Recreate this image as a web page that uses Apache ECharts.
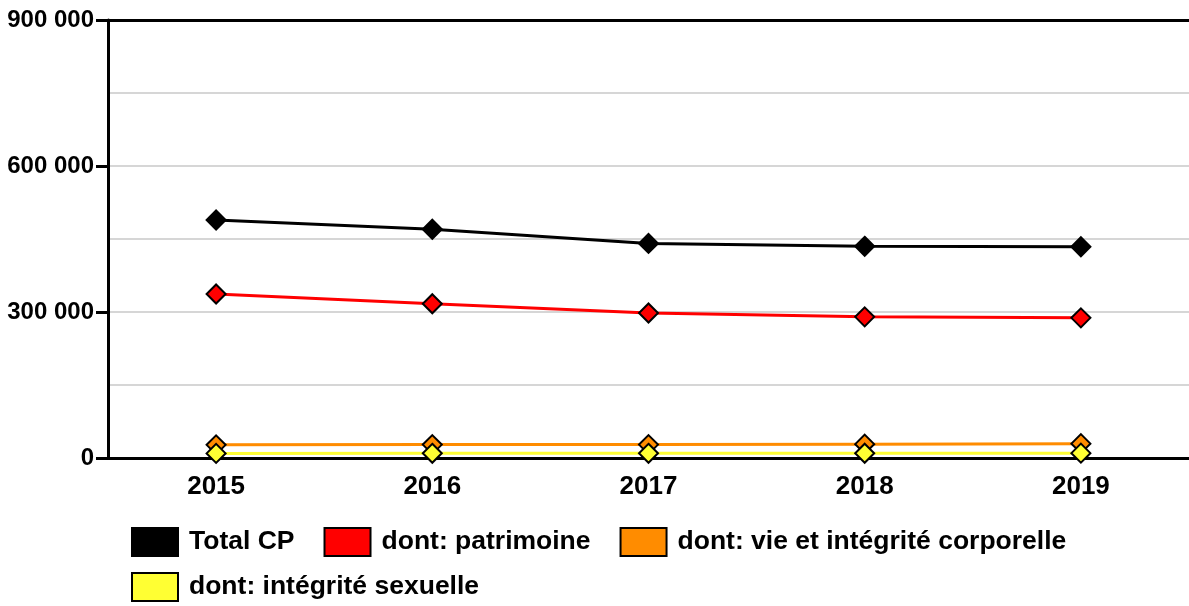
<!DOCTYPE html>
<html>
<head>
<meta charset="utf-8">
<script src="https://cdn.jsdelivr.net/npm/echarts@6/dist/echarts.min.js"></script>
<style>
html,body{margin:0;padding:0;background:#fff;}
#chart{width:1189px;height:606px;}
</style>
</head>
<body>
<div id="chart"></div>
<script>
var years = ['2015', '2016', '2017', '2018', '2019'];
var totalCP = [489000, 470000, 441000, 435000, 434000];
var patrimoine = [337000, 317000, 298000, 290000, 288000];
var vieIntegrite = [27000, 27500, 27500, 28500, 29500];
var integriteSexuelle = [9500, 9600, 9600, 9800, 10000];
var seriesNames = ['Total CP', 'dont: patrimoine', 'dont: vie et intégrité corporelle', 'dont: intégrité sexuelle'];
var yTicks = [0, 300000, 600000, 900000];

var FONT = '"Liberation Sans", Arial, sans-serif';
function fmt(v) { return String(v).replace(/\B(?=(\d{3})+(?!\d))/g, ' '); }

function lineSeries(name, data, color, symColor) {
  return {
    name: name, type: 'line', data: data,
    symbol: 'diamond', symbolSize: 19,
    lineStyle: { color: color, width: 3 },
    itemStyle: { color: symColor, borderColor: '#000', borderWidth: 2 },
    emphasis: { disabled: true },
    z: 3
  };
}

var chart = echarts.init(document.getElementById('chart'), null, { renderer: 'canvas' });
var legendText = { fontFamily: FONT, fontSize: 26.5, fontWeight: 'bold', color: '#000', padding: [8, 0, 0, 6] };
function legendAt(names, top) {
  return {
    data: names, left: 126, top: top, orient: 'horizontal',
    itemWidth: 46, itemHeight: 28, itemGap: 29,
    icon: 'rect',
    itemStyle: { borderColor: '#000', borderWidth: 2 },
    textStyle: legendText, selectedMode: false
  };
}
chart.setOption({
  animation: false,
  backgroundColor: '#fff',
  grid: { left: 108, right: -1, top: 20, bottom: 148 },
  legend: [ legendAt(seriesNames.slice(0, 3), 522), legendAt(seriesNames.slice(3), 567) ],
  xAxis: [
    {
      type: 'category', data: years, boundaryGap: true, position: 'bottom',
      axisLine: { lineStyle: { color: '#000', width: 3 } },
      axisTick: { show: false },
      axisLabel: { fontFamily: FONT, fontSize: 26, fontWeight: 'bold', color: '#000', margin: 16 }
    },
    {
      type: 'category', data: years, position: 'top',
      axisLine: { show: true, lineStyle: { color: '#000', width: 3 } },
      axisTick: { show: false }, axisLabel: { show: false }
    }
  ],
  yAxis: {
    type: 'value', min: yTicks[0], max: yTicks[yTicks.length - 1], interval: yTicks[1] - yTicks[0],
    axisLine: { show: true, lineStyle: { color: '#000', width: 3 } },
    axisTick: { show: true, length: 12, lineStyle: { color: '#000', width: 3 } },
    minorTick: { show: false, splitNumber: 2 },
    splitLine: { show: true, lineStyle: { color: '#d6d6d6', width: 2 } },
    minorSplitLine: { show: true, lineStyle: { color: '#d6d6d6', width: 2 } },
    axisLabel: { fontFamily: FONT, fontSize: 24, fontWeight: 'bold', color: '#000', margin: 14, formatter: fmt }
  },
  series: [
    lineSeries(seriesNames[0], totalCP, '#000', '#000'),
    lineSeries(seriesNames[1], patrimoine, '#ff0000', '#ff0000'),
    lineSeries(seriesNames[2], vieIntegrite, '#ff8c00', '#ff8c00'),
    lineSeries(seriesNames[3], integriteSexuelle, '#ffff33', '#ffff33')
  ]
});
</script>
</body>
</html>
